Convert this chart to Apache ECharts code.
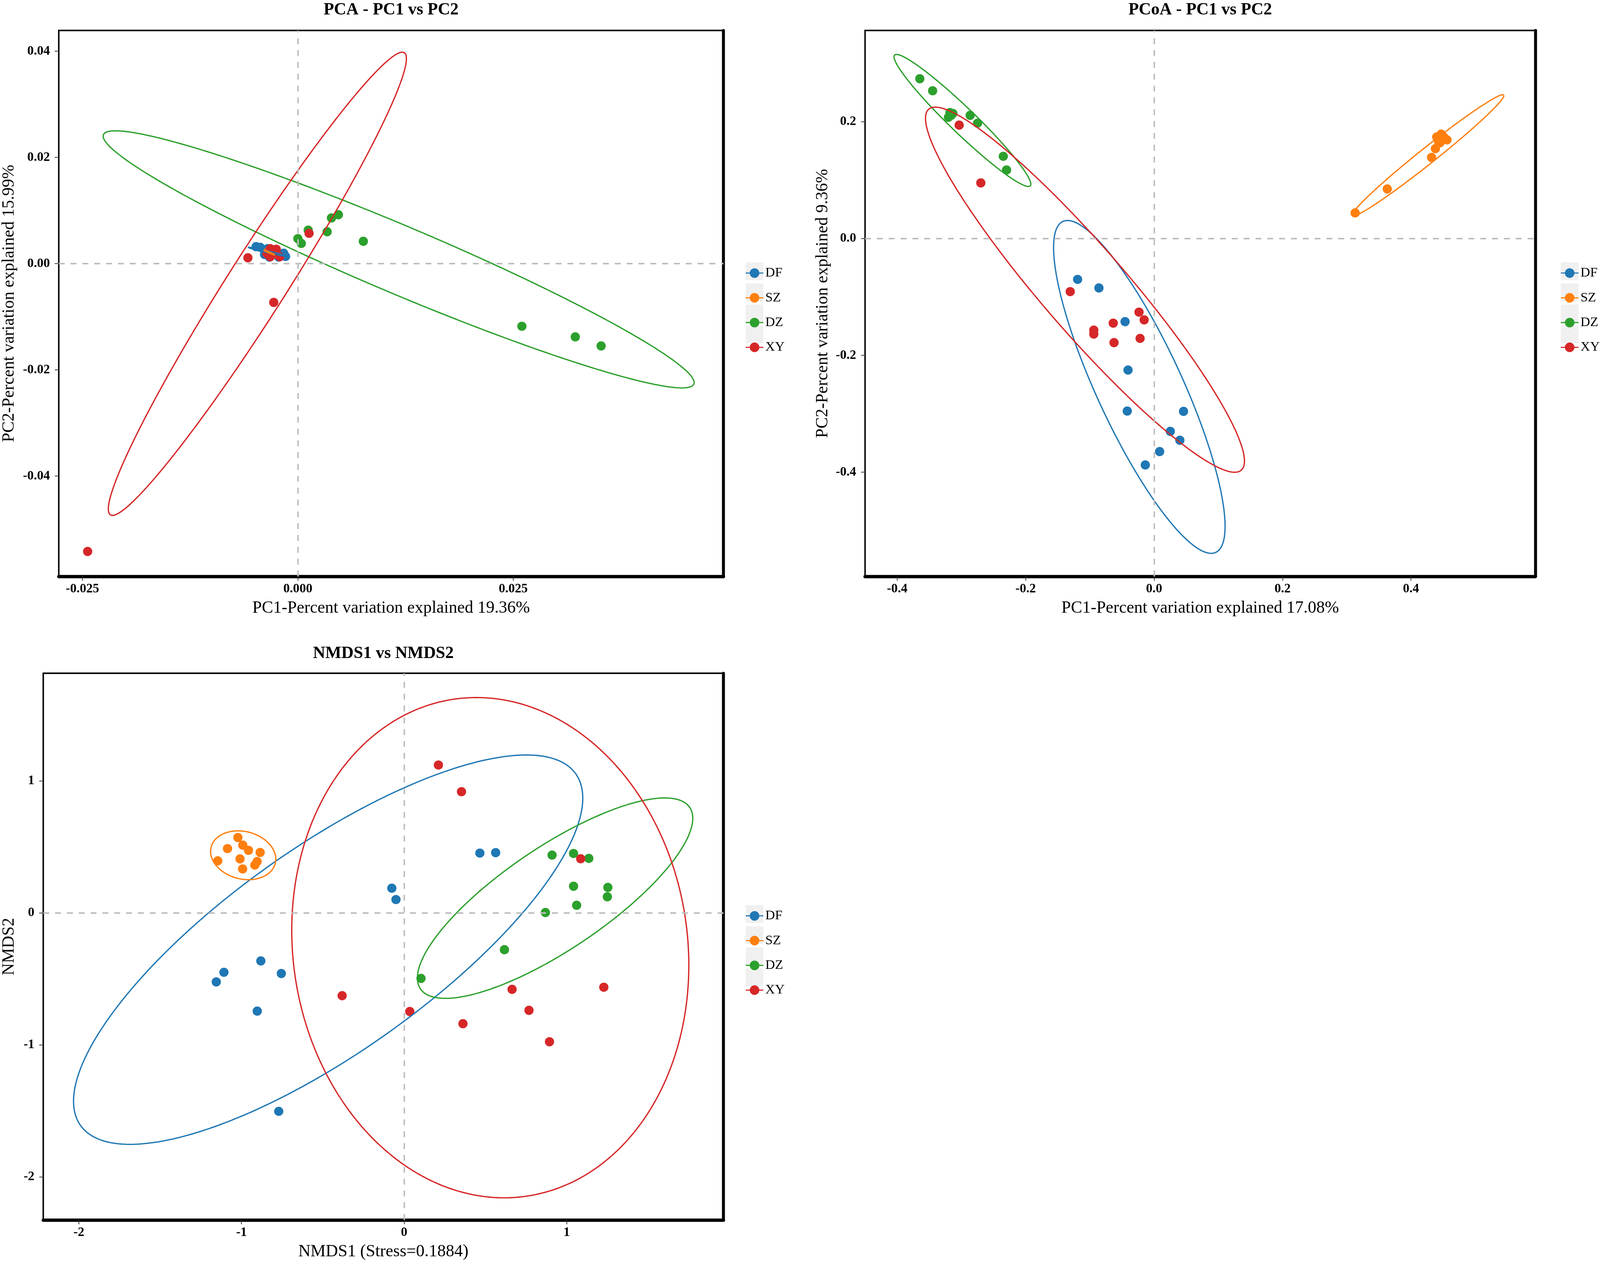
<!DOCTYPE html>
<html><head><meta charset="utf-8">
<script src="https://cdn.jsdelivr.net/npm/echarts@6/dist/echarts.min.js"></script>
<style>html,body{margin:0;padding:0;background:#fff;overflow:hidden}#c{position:absolute;left:0;top:0;width:100vw;height:100vh}</style>
</head><body><div id="c"></div>
<script>
const groups = ['DF', 'SZ', 'DZ', 'XY'];
const colors = ['#1F77B4', '#FF7F0E', '#2CA02C', '#D62728'];

// ---------- PCA ----------
const pcaDF = [[-0.00485,0.00319],[-0.00437,0.00306],[-0.00387,0.00172],[-0.00329,0.00123],[-0.00222,0.00123],[-0.00143,0.00135],[-0.00165,0.00196],[-0.00279,0.00257],[-0.00351,0.00282],[-0.0025,0.00196]];
const pcaSZ = [[-0.0034,0.0023],[-0.0033,0.0022],[-0.0032,0.0022],[-0.0031,0.0021],[-0.0030,0.0021],[-0.0029,0.0020],[-0.0028,0.0020],[-0.0028,0.0019],[-0.0027,0.0019],[-0.0032,0.0021]];
const pcaDZ = [[0.0000,0.0047],[0.0004,0.0038],[0.0012,0.0063],[0.0034,0.0060],[0.0039,0.0086],[0.0047,0.0092],[0.0076,0.0042],[0.0260,-0.0118],[0.0322,-0.0138],[0.0352,-0.0155]];
const pcaXY = [[-0.0058,0.0011],[-0.0028,-0.0073],[0.0013,0.0057],[-0.0244,-0.0542],[-0.0032,0.0028],[-0.0025,0.0027],[-0.0021,0.0013],[-0.0032,0.0013],[-0.0028,0.0021],[-0.0036,0.0019]];
// ellipse: [centerX, centerY, u_x, u_y, v_x, v_y]  (conjugate semi-diameters, data units)
const pcaEllDF = [-0.00344, 0.0022, 0.00237, -0.00088, 0, 0.00018];
const pcaEllSZ = [-0.00333, 0.0021, 0.00067, -0.00048, 0, 0.00012];
const pcaEllDZ = [0.0117, 0.0008, 0.0343, -0.0232, 0, 0.0069];
const pcaEllXY = [-0.0047, -0.0038, 0.0173, 0.0424, 0, 0.0102];
const pcaXTicks = [-0.025, 0, 0.025];
const pcaYTicks = [-0.04, -0.02, 0, 0.02, 0.04];
const pcaXRange = [-0.02775, 0.0494];
const pcaYRange = [-0.0589, 0.0439];

// ---------- PCoA ----------
const pcoaDF = [[-0.1191,-0.0699],[-0.0859,-0.0846],[-0.0452,-0.1422],[-0.0406,-0.2251],[-0.0418,-0.2953],[0.0458,-0.2959],[0.0252,-0.3301],[0.0401,-0.3454],[0.0086,-0.3648],[-0.0137,-0.3876]];
const pcoaSZ = [[0.440,0.174],[0.447,0.179],[0.456,0.169],[0.443,0.166],[0.438,0.154],[0.432,0.139],[0.313,0.044],[0.363,0.085],[0.451,0.174],[0.445,0.164]];
const pcoaDZ = [[-0.3648,0.2738],[-0.3448,0.2531],[-0.3179,0.2157],[-0.3133,0.2143],[-0.3202,0.2077],[-0.2864,0.2110],[-0.2749,0.1976],[-0.2348,0.1409],[-0.2297,0.1175],[-0.316,0.211]];
const pcoaXY = [[-0.3035,0.1943],[-0.2698,0.0953],[-0.1306,-0.0908],[-0.0939,-0.1568],[-0.0939,-0.1635],[-0.0636,-0.1448],[-0.0624,-0.1782],[-0.0235,-0.1259],[-0.0155,-0.1392],[-0.0218,-0.1709]];
const pcoaEllDF = [-0.0230, -0.2540, 0.1335, -0.2387, 0, 0.1557];
const pcoaEllSZ = [0.4264, 0.1425, 0.1183, 0.1025, 0, 0.0174];
const pcoaEllDZ = [-0.2984, 0.2023, 0.1065, -0.109, 0, 0.030];
const pcoaEllXY = [-0.1076, -0.0875, 0.2483, -0.2934, 0, 0.108];
const pcoaXTicks = [-0.4, -0.2, 0, 0.2, 0.4];
const pcoaYTicks = [-0.4, -0.2, 0, 0.2];
const pcoaXRange = [-0.45, 0.5935];
const pcoaYRange = [-0.5785, 0.3564];

// ---------- NMDS ----------
const nmdsDF = [[-1.155,-0.523],[-1.108,-0.450],[-0.881,-0.364],[-0.755,-0.459],[-0.903,-0.744],[-0.771,-1.503],[-0.0755,0.187],[-0.050,0.101],[0.466,0.453],[0.563,0.456]];
const nmdsSZ = [[-1.022,0.571],[-1.086,0.487],[-0.992,0.513],[-0.957,0.474],[-0.885,0.458],[-1.146,0.394],[-1.009,0.409],[-0.904,0.389],[-0.918,0.362],[-0.993,0.333]];
const nmdsDZ = [[0.910,0.438],[1.042,0.450],[1.136,0.413],[1.042,0.202],[1.253,0.193],[1.250,0.122],[1.061,0.058],[0.869,0.003],[0.617,-0.279],[0.104,-0.496]];
const nmdsXY = [[0.211,1.120],[0.353,0.918],[1.086,0.410],[-0.381,-0.627],[0.035,-0.747],[0.362,-0.839],[0.664,-0.579],[0.768,-0.738],[0.894,-0.976],[1.228,-0.563]];
const nmdsEllDF = [-0.467, -0.2785, 1.5658, 1.1475, 0, 0.926];
const nmdsEllSZ = [-0.9895, 0.4365, 0.2005, -0.0295, 0, 0.1825];
const nmdsEllDZ = [0.9285, 0.1117, 0.8467, 0.6045, 0, 0.459];
const nmdsEllXY = [0.53, -0.2635, -0.085, 1.8945, 1.218, 0];
const nmdsXTicks = [-2, -1, 0, 1];
const nmdsYTicks = [-2, -1, 0, 1];
const nmdsXRange = [-2.219, 1.964];
const nmdsYRange = [-2.326, 1.815];

const SERIF = 'Liberation Serif';

// design is laid out on a 4328 x 3229 canvas; scale to the actual viewport
const DW = 4328, DH = 3229;
const W = window.innerWidth || DW, H = window.innerHeight || DH;
const sx = W / DW, sy = H / DH, sf = Math.min(sx, sy);
const X = v => v * sx, Y = v => v * sy, F = v => v * sf;

function ellipsePath(p) {
  const pts = [];
  const N = 240;
  for (let i = 0; i <= N; i++) {
    const t = 2 * Math.PI * i / N;
    pts.push([p[0] + p[2] * Math.cos(t) + p[4] * Math.sin(t), p[1] + p[3] * Math.cos(t) + p[5] * Math.sin(t)]);
  }
  return pts;
}

const panels = [
  { grid: {left: 159, top: 78, width: 1798, height: 1398},
    title: 'PCA - PC1 vs PC2', titleY: 26,
    xName: 'PC1-Percent variation explained 19.36%', yName: 'PC2-Percent variation explained 15.99%', yNameGap: 111,
    pts: [pcaDF, pcaSZ, pcaDZ, pcaXY], ells: [pcaEllDF, pcaEllSZ, pcaEllDZ, pcaEllXY],
    xTicks: pcaXTicks, yTicks: pcaYTicks, xRange: pcaXRange, yRange: pcaYRange, xDec: 3, yDec: 2,
    legendLeft: 2017, legendMid: 694.5 },
  { grid: {left: 2340, top: 78, width: 1813, height: 1398},
    title: 'PCoA - PC1 vs PC2', titleY: 26,
    xName: 'PC1-Percent variation explained 17.08%', yName: 'PC2-Percent variation explained 9.36%', yNameGap: 91,
    pts: [pcoaDF, pcoaSZ, pcoaDZ, pcoaXY], ells: [pcoaEllDF, pcoaEllSZ, pcoaEllDZ, pcoaEllXY],
    xTicks: pcoaXTicks, yTicks: pcoaYTicks, xRange: pcoaXRange, yRange: pcoaYRange, xDec: 1, yDec: 1,
    legendLeft: 4222, legendMid: 694.5 },
  { grid: {left: 117, top: 1724, width: 1840, height: 1400},
    title: 'NMDS1 vs NMDS2', titleY: 1674,
    xName: 'NMDS1 (Stress=0.1884)', yName: 'NMDS2', yNameGap: 69,
    pts: [nmdsDF, nmdsSZ, nmdsDZ, nmdsXY], ells: [nmdsEllDF, nmdsEllSZ, nmdsEllDZ, nmdsEllXY],
    xTicks: nmdsXTicks, yTicks: nmdsYTicks, xRange: nmdsXRange, yRange: nmdsYRange, xDec: 0, yDec: 0,
    legendLeft: 2017, legendMid: 2340.5 }
];

const LEG_STEP = 54;
const legendIcon = 'path://M0,11.5 L48,11.5 L48,14.5 L0,14.5 Z M11,13 A13,13 0 1,1 37,13 A13,13 0 1,1 11,13 Z';

const option = {
  animation: false,
  backgroundColor: '#ffffff',
  title: [], grid: [], xAxis: [], yAxis: [], legend: [], series: [], graphic: []
};

panels.forEach((P, pi) => {
  option.grid.push({show: true, borderWidth: F(4), borderColor: '#000', backgroundColor: 'transparent',
    left: X(P.grid.left), top: Y(P.grid.top), width: X(P.grid.width), height: Y(P.grid.height)});
  option.title.push({
    text: P.title, left: X(P.grid.left + P.grid.width / 2), top: Y(P.titleY), padding: 0,
    textAlign: 'center', textVerticalAlign: 'middle',
    textStyle: {fontFamily: SERIF, fontWeight: 'bold', fontSize: F(46), color: '#000'}
  });
  const tickStyle = {show: true, length: Y(11), lineStyle: {color: '#333', width: F(2)}};
  option.xAxis.push({
    type: 'value', gridIndex: pi, min: P.xRange[0], max: P.xRange[1],
    axisLine: {show: true, onZero: false, lineStyle: {color: '#000', width: F(9)}},
    axisTick: Object.assign({customValues: P.xTicks}, tickStyle),
    axisLabel: {customValues: P.xTicks, formatter: v => Number(v).toFixed(P.xDec), fontFamily: SERIF, fontWeight: 'bold', fontSize: F(35), color: '#000', margin: Y(16)},
    splitLine: {show: false},
    name: P.xName, nameLocation: 'middle', nameGap: Y(60),
    nameTextStyle: {fontFamily: SERIF, fontSize: F(46), color: '#000'}
  });
  option.yAxis.push({
    type: 'value', gridIndex: pi, min: P.yRange[0], max: P.yRange[1], position: 'left',
    axisLine: {show: false, onZero: false},
    axisTick: Object.assign({customValues: P.yTicks}, tickStyle, {length: X(11)}),
    axisLabel: {customValues: P.yTicks, formatter: v => Number(v).toFixed(P.yDec), fontFamily: SERIF, fontWeight: 'bold', fontSize: F(35), color: '#000', margin: X(24)},
    splitLine: {show: false},
    name: P.yName, nameLocation: 'middle', nameGap: X(P.yNameGap),
    nameTextStyle: {fontFamily: SERIF, fontSize: F(46), color: '#000'}
  });
  // right border (thicker, as in the reference)
  option.yAxis.push({
    type: 'value', gridIndex: pi, min: P.yRange[0], max: P.yRange[1], position: 'right',
    axisLine: {show: true, onZero: false, lineStyle: {color: '#000', width: F(8)}},
    axisTick: {show: false}, axisLabel: {show: false}, splitLine: {show: false}
  });
  const yMain = option.yAxis.length - 2;

  groups.forEach((g, gi) => {
    option.series.push({
      type: 'scatter', name: g, xAxisIndex: pi, yAxisIndex: yMain,
      data: P.pts[gi], symbol: 'circle', symbolSize: F(25), z: 2,
      itemStyle: {color: colors[gi], opacity: 1}, silent: true
    });
  });
  groups.forEach((g, gi) => {
    const s = {
      type: 'line', name: g, xAxisIndex: pi, yAxisIndex: yMain,
      data: ellipsePath(P.ells[gi]), showSymbol: false, symbol: 'none', smooth: false, z: 3,
      lineStyle: {color: colors[gi], width: F(3.5)}, itemStyle: {color: colors[gi]}, silent: true, clip: true
    };
    if (gi === 3) {
      s.markLine = {
        silent: true, symbol: ['none', 'none'], label: {show: false}, z: 5,
        lineStyle: {type: [F(16), F(16)], color: '#BEBEBE', width: F(4)},
        data: [{xAxis: 0}, {yAxis: 0}]
      };
    }
    option.series.push(s);
  });

  const iconH = F(26), step = Y(LEG_STEP);
  option.legend.push({
    orient: 'vertical', left: X(P.legendLeft), top: Y(P.legendMid) - iconH / 2, padding: 0,
    itemWidth: F(48), itemHeight: iconH, itemGap: step - iconH,
    data: groups.map(g => ({name: g, icon: legendIcon})),
    textStyle: {fontFamily: SERIF, fontSize: F(36), color: '#000', lineHeight: iconH, padding: [0, 0, 0, 0]},
    selectedMode: false
  });
  groups.forEach((g, gi) => {
    option.graphic.push({
      type: 'rect', z: 0, silent: true,
      shape: {x: X(P.legendLeft), y: Y(P.legendMid) - F(24) + gi * step, width: F(48), height: F(48)},
      style: {fill: '#F0F0F0'}
    });
  });
});

const chart = echarts.init(document.getElementById('c'), null, {renderer: 'canvas', width: W, height: H});
chart.setOption(option);
</script>
</body></html>
